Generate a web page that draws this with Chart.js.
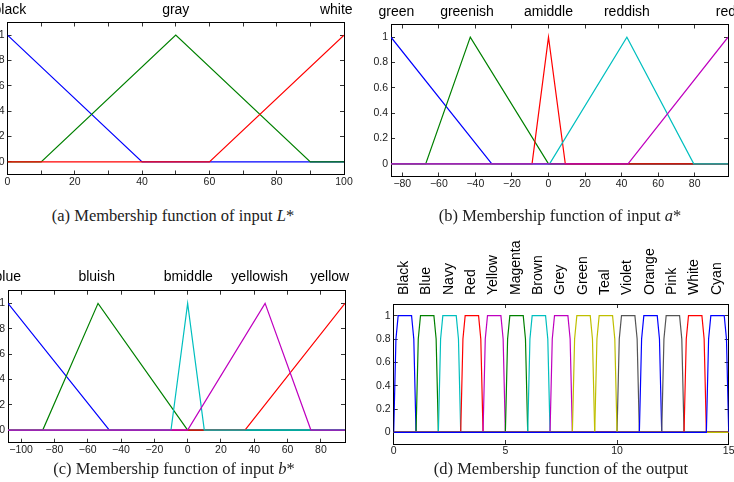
<!DOCTYPE html>
<html>
<head>
<meta charset="utf-8">
<script src="https://cdn.jsdelivr.net/npm/chart.js@4.4.1/dist/chart.umd.min.js"></script>
<style>
html, body { margin: 0; padding: 0; background: #fff; overflow: hidden; width: 734px; height: 482px; position: relative; }
canvas { position: absolute; }
.cap { position: absolute; font-family: "Liberation Serif", serif; font-size: 16.5px; line-height: 18px; color: #222; white-space: nowrap; transform: translateX(-50%); }
</style>
</head>
<body>
<canvas id="cA" width="420" height="200" style="left:-40px;top:0px"></canvas>
<canvas id="cB" width="420" height="200" style="left:340px;top:0px"></canvas>
<canvas id="cC" width="420" height="210" style="left:-40px;top:250px"></canvas>
<canvas id="cD" width="420" height="222" style="left:340px;top:240px"></canvas>

<div class="cap" style="left:173px;top:207px">(a) Membership function of input <i>L</i>*</div>
<div class="cap" style="left:560px;top:207px">(b) Membership function of input <i>a</i>*</div>
<div class="cap" style="left:174px;top:460px">(c) Membership function of input <i>b</i>*</div>
<div class="cap" style="left:561px;top:460px">(d) Membership function of the output</div>

<script>
const BLUE = '#0000ff', GREEN = '#008000', RED = '#ff0000', CYAN = '#00bfbf', MAGENTA = '#bf00bf', YELLOW = '#bfbf00', GRAY = '#555555';

// ---- (a) L*
const lRange = [0, 100];
const lNames = ['black', 'gray', 'white'];
const lNamePos = [0.7, 50, 97.7];
const lX = [[0, 40, 100], [0, 10, 50, 90, 100], [0, 60, 100]];
const lY = [[1, 0, 0], [0, 0, 1, 0, 0], [0, 0, 1]];
const lColors = [BLUE, GREEN, RED];
const lTicks = [0, 10, 20, 30, 40, 50, 60, 70, 80, 90, 100];
const lLabels = ['0', '', '20', '', '40', '', '60', '', '80', '', '100'];

// ---- (b) a*
const aRange = [-86.18, 98.23];
const aNames = ['green', 'greenish', 'amiddle', 'reddish', 'red'];
const aNamePos = [-83.2, -44.6, 0, 42.9, 97.1];
const aX = [[-86.18, -31, 98.23], [-86.18, -67.2, -42.8, 0, 98.23], [-86.18, -9, 0, 9.2, 98.23],
            [-86.18, 0.6, 42.9, 79.5, 98.23], [-86.18, 43.5, 98.23]];
const aY = [[1, 0, 0], [0, 0, 1, 0, 0], [0, 0, 1, 0, 0], [0, 0, 1, 0, 0], [0, 0, 1]];
const aColors = [BLUE, GREEN, RED, CYAN, MAGENTA];
const aTicks = [-80, -60, -40, -20, 0, 20, 40, 60, 80];

// ---- (c) b*
const bRange = [-107.86, 94.48];
const bNames = ['blue', 'bluish', 'bmiddle', 'yellowish', 'yellow'];
const bNamePos = [-108, -54.6, 0.4, 43.3, 85.3];
const bX = [[-107.86, -47, 94.48], [-107.86, -87, -53.8, 0, 94.48], [-107.86, 34.4, 94.48],
            [-107.86, -10, 0, 10, 94.48], [-107.86, 0, 46.5, 74, 94.48]];
const bY = [[1, 0, 0], [0, 0, 1, 0, 0], [0, 0, 1], [0, 0, 1, 0, 0], [0, 0, 1, 0, 0]];
const bColors = [BLUE, GREEN, RED, CYAN, MAGENTA];
const bTicks = [-100, -80, -60, -40, -20, 0, 20, 40, 60, 80];

// ---- (d) output
const outRange = [0, 15];
const outNames = ['Black', 'Blue', 'Navy', 'Red', 'Yellow', 'Magenta', 'Brown', 'Grey', 'Green', 'Teal', 'Violet', 'Orange', 'Pink', 'White', 'Cyan'];
const outNamePos = [0.5, 1.5, 2.5, 3.5, 4.5, 5.5, 6.5, 7.5, 8.5, 9.5, 10.5, 11.5, 12.5, 13.5, 14.5];
const outStart = [0, 1, 2, 3, 4, 5, 6, 7, 8, 9, 10, 11, 12, 13, 14];
const outShapeX = [0, 0.1, 0.2, 0.8, 0.9, 1];
const outShapeY = [0, 0.8, 1, 1, 0.8, 0];
const outColors = [BLUE, GREEN, CYAN, RED, MAGENTA, GREEN, CYAN, MAGENTA, YELLOW, YELLOW, GRAY, BLUE, GRAY, RED, BLUE];
const outLayer = [1, 2, 3, 4, 5, 6, 7, 8, 9, 14, 10, 11, 12, 13, 15];
const outTicks = [0, 5, 10, 15];

const yTicks = [0, 0.2, 0.4, 0.6, 0.8, 1];
const yLabels = ['0', '0.2', '0.4', '0.6', '0.8', '1'];

const tickFont = { family: '"Liberation Sans", Arial, sans-serif', size: 10.5 };
const nameFont = { family: '"Liberation Sans", Arial, sans-serif', size: 14 };

function series(xs, ys, colors, layers) {
    return xs.map((xa, i) => ({
        data: xa.map((x, j) => ({ x: x, y: ys[i][j] })),
        borderColor: colors[i],
        borderWidth: 1.2,
        pointRadius: 0,
        fill: false,
        tension: 0,
        xAxisID: 'x',
        yAxisID: 'y',
        order: -(layers ? layers[i] : i)
    }));
}

const minus = v => String(v).replace('-', '\u2212');

function noPad(s) { s.paddingLeft = 0; s.paddingRight = 0; s.paddingTop = 0; s.paddingBottom = 0; }

function panel(id, datasets, c) {
    const tickGrid = { drawOnChartArea: false, tickLength: -4, color: '#333' };
    const border = { display: true, color: '#000', width: 1 };
    new Chart(document.getElementById(id), {
        type: 'line',
        data: { datasets: datasets },
        options: {
            responsive: false,
            animation: false,
            devicePixelRatio: 1,
            layout: { padding: c.pad },
            plugins: { legend: { display: false }, tooltip: { enabled: false } },
            scales: {
                x: {
                    type: 'linear', position: 'bottom', min: c.range[0], max: c.range[1], weight: 0,
                    afterBuildTicks: s => { s.ticks = c.xTicks.map(v => ({ value: v })); },
                    afterFit: s => { s.height = c.xH; noPad(s); },
                    grid: tickGrid, border: border,
                    ticks: { callback: (v, i) => c.xLabels[i], font: tickFont, color: '#222', padding: 5.2, maxRotation: 0, autoSkip: false }
                },
                xt: {
                    type: 'linear', position: 'top', min: c.range[0], max: c.range[1], weight: 0,
                    afterBuildTicks: s => { s.ticks = c.xTicks.map(v => ({ value: v })); },
                    afterFit: s => { s.height = 0; noPad(s); },
                    grid: tickGrid, border: border,
                    ticks: { display: false }
                },
                xn: {
                    type: 'linear', position: 'top', min: c.range[0], max: c.range[1], weight: 1,
                    afterBuildTicks: s => { s.ticks = c.namePos.map(v => ({ value: v })); },
                    afterFit: s => { s.height = c.nH; noPad(s); },
                    grid: { display: false, drawTicks: false }, border: { display: false },
                    ticks: {
                        callback: (v, i) => c.names[i], font: nameFont, color: '#000', padding: c.nPad,
                        minRotation: c.rot, maxRotation: c.rot, autoSkip: false, labelOffset: c.nOff || 0
                    }
                },
                y: {
                    position: 'left', min: -0.1, max: 1.1, weight: 0,
                    afterBuildTicks: s => { s.ticks = yTicks.map(v => ({ value: v })); },
                    afterFit: s => { s.width = c.yW; noPad(s); },
                    grid: tickGrid, border: border,
                    ticks: { callback: (v, i) => yLabels[i], font: tickFont, color: '#222', padding: 7 }
                },
                yr: {
                    position: 'right', min: -0.1, max: 1.1, weight: 0,
                    afterBuildTicks: s => { s.ticks = yTicks.map(v => ({ value: v })); },
                    afterFit: s => { s.width = 0; noPad(s); },
                    grid: tickGrid, border: border,
                    ticks: { display: false }
                }
            }
        }
    });
}

panel('cA', series(lX, lY, lColors), {
    range: lRange, xTicks: lTicks, xLabels: lLabels, names: lNames, namePos: lNamePos,
    pad: { left: 0, top: 0, right: 36, bottom: 5.5 }, xH: 20, yW: 47.5, nH: 22.5, nPad: 4, rot: 0
});

panel('cB', series(aX, aY, aColors), {
    range: aRange, xTicks: aTicks, xLabels: aTicks.map(minus), names: aNames, namePos: aNamePos,
    pad: { left: 0, top: 0, right: 32, bottom: 3.5 }, xH: 20, yW: 51, nH: 24.5, nPad: 4.3, rot: 0
});

panel('cC', series(bX, bY, bColors), {
    range: bRange, xTicks: bTicks, xLabels: bTicks.map(minus), names: bNames, namePos: bNamePos,
    pad: { left: 0, top: 0, right: 35, bottom: 1.3 }, xH: 16, yW: 48, nH: 40.7, nPad: 5.5, rot: 0
});

// output sets: each trapezoid sits on [start, start+1], zero elsewhere on [0, 15]
const outX = outStart.map(s => [outRange[0]].concat(outShapeX.map(dx => s + dx), [outRange[1]]));
const outY = outStart.map(() => [0].concat(outShapeY, [0]));

panel('cD', series(outX, outY, outColors, outLayer), {
    range: outRange, xTicks: outTicks, xLabels: outTicks.map(String), names: outNames, namePos: outNamePos,
    pad: { left: 0, top: 0, right: 31.3, bottom: 2 }, xH: 16, yW: 53.7, nH: 64, nPad: 9, rot: 90, nOff: 16
});
</script>
</body>
</html>
